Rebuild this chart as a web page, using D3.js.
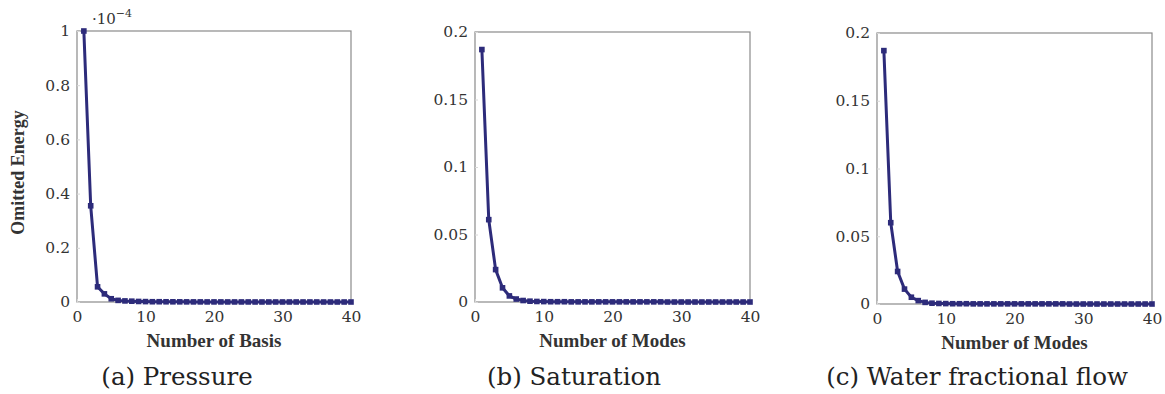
<!DOCTYPE html>
<html>
<head>
<meta charset="utf-8">
<script src="https://cdn.jsdelivr.net/npm/d3@7"></script>
<style>
  html, body { margin: 0; padding: 0; background: #fff; }
  svg { display: block; }
</style>
</head>
<body>
<svg id="chart" width="1165" height="394"></svg>
<script>
// ---- Data ----
const modeNumbers = [1,2,3,4,5,6,7,8,9,10,11,12,13,14,15,16,17,18,19,20,
                     21,22,23,24,25,26,27,28,29,30,31,32,33,34,35,36,37,38,39,40];
// Pressure omitted energy (in units of 1e-4)
const pressureValues = [1.0, 0.355, 0.056, 0.030, 0.012, 0.006, 0.004, 0.003, 0.002, 0.0015,
                        0.001, 0.001, 0.0008, 0.0007, 0.0006, 0.0005, 0.0004, 0.0004, 0.0003, 0.0003,
                        0.0003, 0.0002, 0.0002, 0.0002, 0.0002, 0.0001, 0.0001, 0.0001, 0.0001, 0.0001,
                        0.0001, 0.0001, 0.0001, 0.0001, 0.0001, 0, 0, 0, 0, 0];
const saturationValues = [0.187, 0.061, 0.024, 0.0105, 0.0045, 0.0022, 0.0011, 0.0006, 0.0004, 0.0003,
                          0.0002, 0.0002, 0.0002, 0.0001, 0.0001, 0.0001, 0.0001, 0.0001, 0.0001, 0.0001,
                          0.0001, 0.0001, 0.0001, 0.0001, 0.0001, 0.0001, 0.0001, 0, 0, 0,
                          0, 0, 0, 0, 0, 0, 0, 0, 0, 0];
const waterFlowValues = [0.187, 0.060, 0.024, 0.011, 0.005, 0.0025, 0.0012, 0.0006, 0.0004, 0.0003,
                         0.0002, 0.0002, 0.0002, 0.0001, 0.0001, 0.0001, 0.0001, 0.0001, 0.0001, 0.0001,
                         0.0001, 0.0001, 0.0001, 0.0001, 0.0001, 0.0001, 0.0001, 0, 0, 0,
                         0, 0, 0, 0, 0, 0, 0, 0, 0, 0];
const xTicks = [0, 10, 20, 30, 40];
const pressureTicks = [0, 0.2, 0.4, 0.6, 0.8, 1];
const satTicks = [0, 0.05, 0.1, 0.15, 0.2];
const xLabels = ["Number of Basis", "Number of Modes", "Number of Modes"];
const captions = ["(a) Pressure", "(b) Saturation", "(c) Water fractional flow"];
const yLabel = "Omitted Energy";

// ---- Layout ----
const SERIF = "'DejaVu Serif', serif";
const TIMES = "'Liberation Serif', 'Times New Roman', serif";
const panels = [
  { box: {x0: 77, x1: 351, y0: 31, y1: 302}, values: pressureValues, yMax: 1, ticks: pressureTicks,
    xLabel: xLabels[0], caption: captions[0], capX: 177 },
  { box: {x0: 475, x1: 750, y0: 32, y1: 302}, values: saturationValues, yMax: 0.2, ticks: satTicks,
    xLabel: xLabels[1], caption: captions[1], capX: 574 },
  { box: {x0: 877, x1: 1152, y0: 33, y1: 304}, values: waterFlowValues, yMax: 0.2, ticks: satTicks,
    xLabel: xLabels[2], caption: captions[2], capX: 977 }
];
const color = "#2d2b7a";
const svg = d3.select("#chart");

panels.forEach((p, i) => {
  const b = p.box;
  const x = d3.scaleLinear().domain([0, 40]).range([b.x0, b.x1]);
  const y = d3.scaleLinear().domain([0, p.yMax]).range([b.y1, b.y0]);
  const g = svg.append("g");

  // frame
  g.append("rect").attr("x", b.x0).attr("y", b.y0)
    .attr("width", b.x1 - b.x0).attr("height", b.y1 - b.y0)
    .attr("fill", "none").attr("stroke", "#8a8a8a").attr("stroke-width", 1.2);

  // axes with inside ticks
  const xAxis = g.append("g").attr("transform", `translate(0,${b.y1})`)
    .call(d3.axisBottom(x).tickValues(xTicks).tickSize(-3).tickPadding(9).tickFormat(d3.format("d")));
  const yAxis = g.append("g").attr("transform", `translate(${b.x0},0)`)
    .call(d3.axisLeft(y).tickValues(p.ticks).tickSize(-3).tickPadding(7).tickFormat(d => String(d)));
  [xAxis, yAxis].forEach(a => {
    a.attr("font-family", SERIF);
    a.select(".domain").remove();
    a.selectAll(".tick line").attr("stroke", "#d8d8d8");
    a.selectAll(".tick text").attr("font-size", 15.5).attr("fill", "#333")
      .attr("font-family", SERIF).style("font-family", SERIF);
  });

  // line
  const pts = modeNumbers.map((m, k) => [m, p.values[k]]);
  g.append("path").datum(pts)
    .attr("fill", "none").attr("stroke", color).attr("stroke-width", 3)
    .attr("stroke-linejoin", "round")
    .attr("d", d3.line().x(d => x(d[0])).y(d => y(d[1])));
  g.selectAll("rect.mk").data(pts).join("rect").attr("class", "mk")
    .attr("x", d => x(d[0]) - 2.8).attr("y", d => y(d[1]) - 2.8)
    .attr("width", 5.6).attr("height", 5.6).attr("fill", color);

  // x label
  g.append("text").attr("x", (b.x0 + b.x1) / 2).attr("y", b.y1 + 45)
    .attr("text-anchor", "middle").attr("font-size", 19).attr("font-weight", "bold")
    .attr("font-family", TIMES).style("font-family", TIMES)
    .attr("fill", "#333").text(p.xLabel);

  // caption
  g.append("text").attr("x", p.capX).attr("y", 385)
    .attr("text-anchor", "middle").attr("font-size", 24.5)
    .attr("font-family", SERIF).style("font-family", SERIF)
    .attr("fill", "#222").text(p.caption);

  if (i === 0) {
    g.append("text").attr("transform", `translate(24,${(b.y0 + b.y1) / 2 + 6}) rotate(-90)`)
      .attr("text-anchor", "middle").attr("font-size", 18).attr("font-weight", "bold")
      .attr("font-family", TIMES).style("font-family", TIMES)
      .attr("fill", "#333").text(yLabel);
    const ex = g.append("text").attr("x", b.x0 + 15).attr("y", b.y0 - 7).attr("font-size", 15)
      .attr("font-family", SERIF).style("font-family", SERIF).attr("fill", "#333");
    ex.append("tspan").text("·10");
    ex.append("tspan").attr("dy", -7).attr("font-size", 11).text("−4");
  }
});
</script>
</body>
</html>
